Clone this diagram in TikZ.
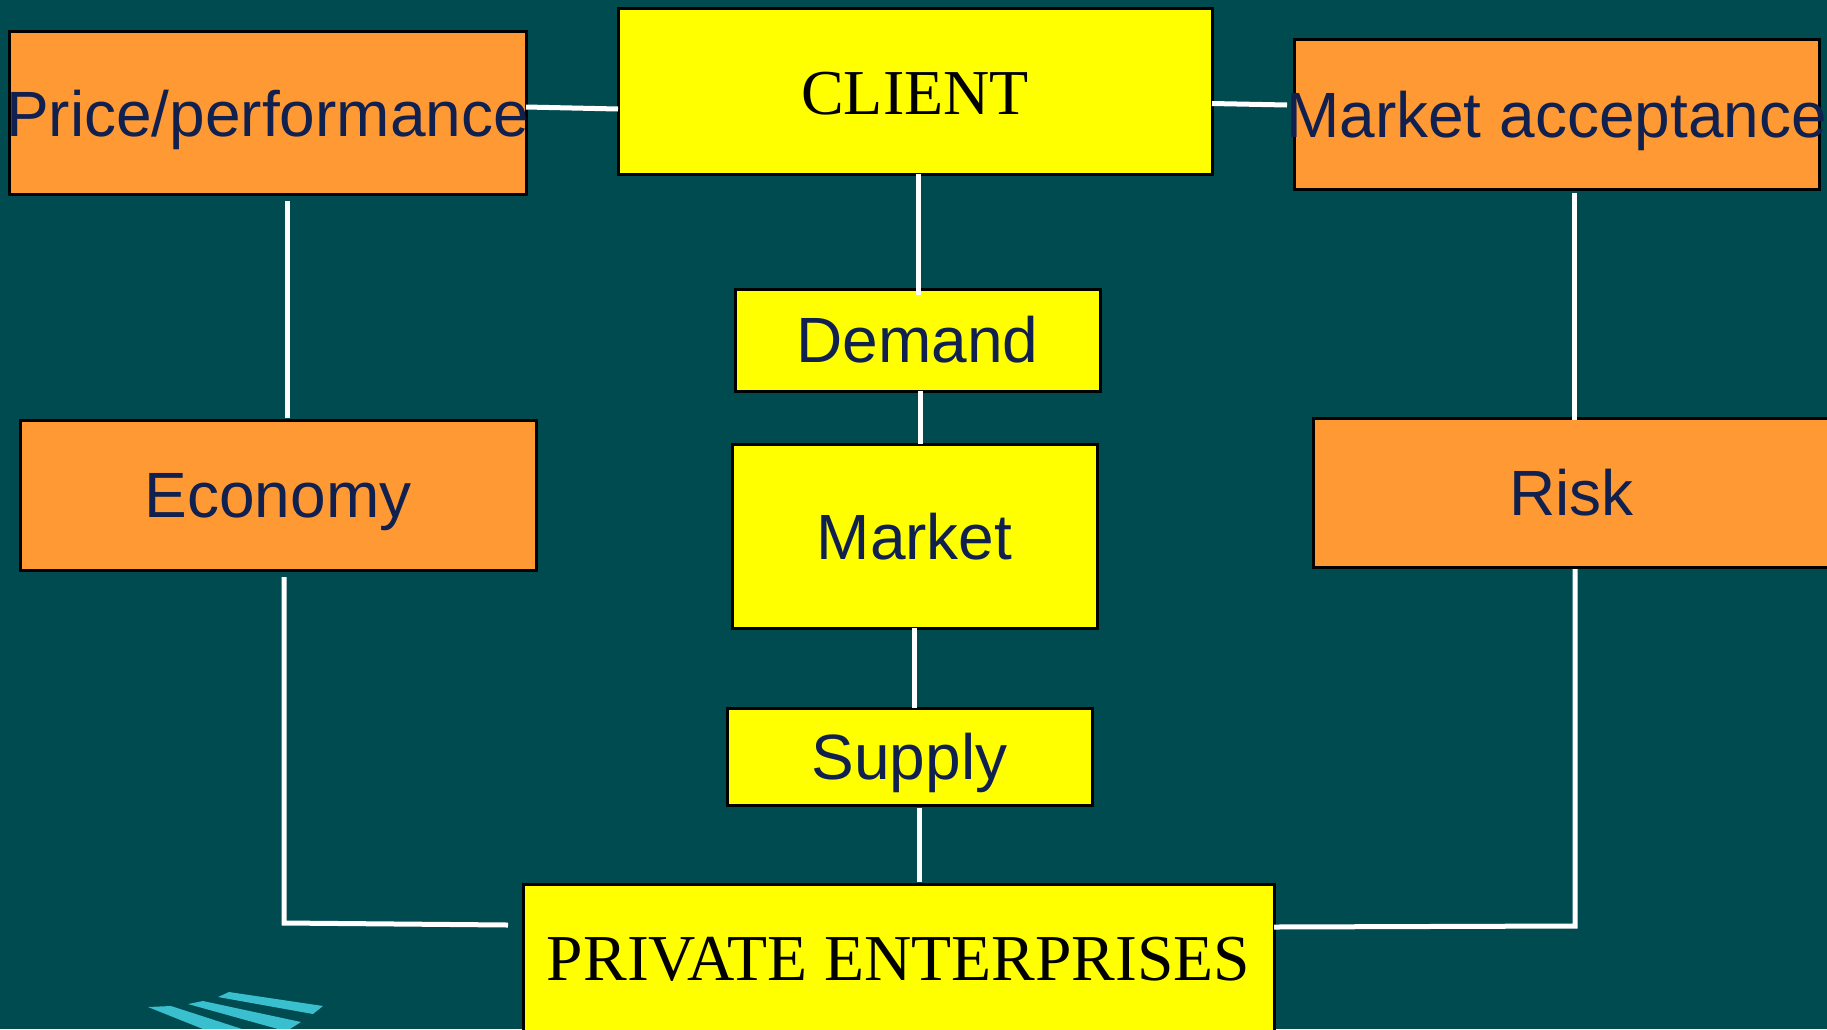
\documentclass[tikz,border=0pt]{standalone}
\usepackage{fontspec}
\setmainfont{Liberation Sans}
\newfontfamily\serifface{Liberation Serif}
\definecolor{bgteal}{HTML}{004B50}
\definecolor{boxorange}{HTML}{FF9933}
\definecolor{boxyellow}{HTML}{FFFF00}
\definecolor{inknavy}{HTML}{10204F}
\definecolor{logocyan}{HTML}{3ABFCF}
% zero-size label: baseline raised #1 from the node centre
\newcommand{\boxlabel}[2]{\makebox[0pt]{\raisebox{#1}[0pt][0pt]{#2}}}
\tikzset{
  flatbox/.style={draw=black,line width=3pt,inner sep=0pt,outer sep=0pt,anchor=center,font=\fontsize{64}{64}\selectfont,text=inknavy},
  orangebox/.style={flatbox,fill=boxorange},
  yellowbox/.style={flatbox,fill=boxyellow},
  serifbox/.style={yellowbox,font=\fontsize{64}{64}\selectfont\serifface,text=black},
  wire/.style={draw=white,line width=5pt,line cap=butt,line join=miter},
  logobar/.style={fill=logocyan,draw=none}
}
\begin{document}
\begin{tikzpicture}[x=1pt,y=-1pt]
\useasboundingbox (0,0) rectangle (1827,1029);
\clip (0,0) rectangle (1827,1029);
\fill[bgteal] (0,0) rectangle (1827,1029);

\node[serifbox,minimum width=594pt,minimum height=166pt] (client) at (915,91) {\boxlabel{-23pt}{CLIENT}};
\node[orangebox,minimum width=517pt,minimum height=163pt] (price) at (267.5,112.5) {\boxlabel{-23.5pt}{Price/performance}};
\node[orangebox,minimum width=525pt,minimum height=150pt] (accept) at (1556.5,114) {\boxlabel{-23pt}{Market acceptance}};
\node[orangebox,minimum width=516pt,minimum height=150pt] (economy) at (278,495) {\boxlabel{-22.5pt}{Economy}};
\node[orangebox,minimum width=517pt,minimum height=149pt] (risk) at (1571.5,492.5) {\boxlabel{-22.5pt}{Risk}};
\node[yellowbox,minimum width=365pt,minimum height=102pt] (demand) at (917.5,340) {\boxlabel{-22.5pt}{Demand}};
\node[yellowbox,minimum width=365pt,minimum height=184pt] (market) at (914.5,536) {\boxlabel{-23.5pt}{Market}};
\node[yellowbox,minimum width=365pt,minimum height=97pt] (supply) at (909.5,756.5) {\boxlabel{-22.5pt}{Supply}};
\node[serifbox,minimum width=751pt,minimum height=156pt,font=\fontsize{65.5}{65.5}\selectfont\serifface] (private) at (898.5,962) {\boxlabel{-18.5pt}{PRIVATE ENTERPRISES}};

\coordinate (econcorner) at (284,923);
\coordinate (riskcorner) at (1575,926);

\draw[wire] ([yshift=5.5pt]price.east) -- ([yshift=-18pt]client.west);
\draw[wire] ([yshift=-12.5pt]client.east) -- ([xshift=-7pt,yshift=9pt]accept.west);
\draw[wire] ([xshift=3.5pt]client.south) -- ([xshift=1pt,yshift=-6pt]demand.north);
\draw[wire] ([xshift=3pt]demand.south) -- ([xshift=6pt]market.north);
\draw[wire] ([xshift=-0.5pt]market.south) -- ([xshift=4.5pt]supply.north);
\draw[wire] ([xshift=10pt,yshift=-3pt]supply.south) -- ([xshift=21pt,yshift=2pt]private.north);
\draw[wire] ([xshift=19.5pt,yshift=-7pt]price.south) -- ([xshift=9pt,yshift=2pt]economy.north);
\draw[wire] ([xshift=6pt,yshift=-7pt]economy.south) -- (econcorner) -- ([xshift=-15pt,yshift=37pt]private.west);
\draw[wire] ([xshift=17.5pt,yshift=-4pt]accept.south) -- ([xshift=2.5pt,yshift=-2pt]risk.north);
\draw[wire] ([xshift=3.5pt,yshift=-2pt]risk.south) -- (riskcorner) -- ([yshift=35pt]private.east);

\fill[logobar] (218,997) -- (229,992) -- (323,1006) -- (313,1014) -- cycle;
\fill[logobar] (188,1004) -- (203,1001) -- (301,1022) -- (290,1029) -- (278,1029) -- cycle;
\fill[logobar] (148,1007) -- (171,1006) -- (242,1029) -- (203,1029) -- cycle;
\end{tikzpicture}
\end{document}
